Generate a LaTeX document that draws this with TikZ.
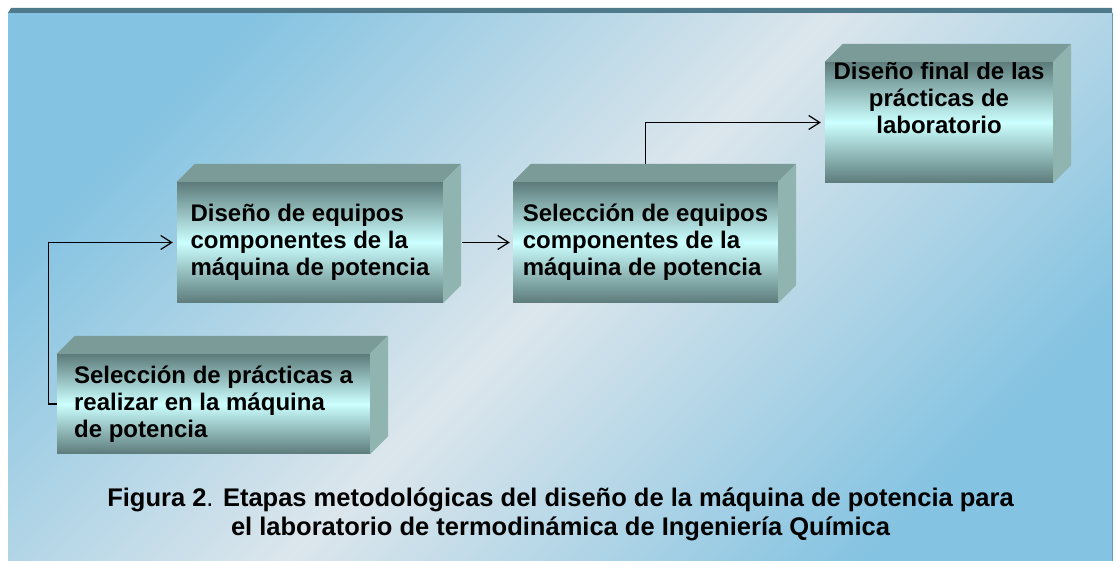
\documentclass[tikz,border=0pt]{standalone}
\usepackage{fontspec}
\setmainfont{Liberation Sans}
\usetikzlibrary{arrows.meta}
\definecolor{fondoazul}{HTML}{84C3E1}
\definecolor{fondoclaro}{HTML}{DCE6EC}
\definecolor{barra}{HTML}{4E7A8B}
\definecolor{cajaoscura}{HTML}{5C7B7A}
\definecolor{cajaclara}{HTML}{CCFFFF}
\definecolor{cajatapa}{HTML}{7A9B98}
\definecolor{cajalado}{HTML}{90B5B1}
\tikzset{bloque/.style={rectangle, inner xsep=0pt, inner ysep=0pt,
    top color=cajaoscura, bottom color=cajaoscura, middle color=cajaclara,
    font=\fontsize{24}{27}\selectfont\bfseries, align=left},
  flecha/.style={black, line width=1.2pt, -{Straight Barb[length=11pt,width=14pt]}}}

\begin{document}
\begin{tikzpicture}[x=1pt,y=1pt]
  \useasboundingbox (0,0) rectangle (1116,561);
  \shade[top color=fondoazul, bottom color=fondoazul, middle color=fondoclaro, shading angle=45] (8,0) rectangle (1112,548);
  \fill[barra] (8,548) -- (11,553) -- (1112,553) -- (1112,548) -- cycle;
  \draw[fondoazul!80!black, line width=1pt] (1112,0) -- (1112,548);

  % bloques (cara frontal)
  \node[bloque, minimum width=313, minimum height=100] (practicas) at (213.5,157)
    {Selecci\'on de pr\'acticas a\\realizar en la m\'aquina\\de potencia};
  \node[bloque, minimum width=266, minimum height=121] (diseno) at (310,318.5)
    {Dise\~no de equipos\\componentes de la\\m\'aquina de potencia};
  \node[bloque, minimum width=265, minimum height=121] (seleccion) at (645.5,318.5)
    {Selecci\'on de equipos\\componentes de la\\m\'aquina de potencia};
  \node[bloque, minimum width=228, minimum height=121, align=center] (final) at (939,438.5)
    {Dise\~no final de las\\pr\'acticas de\\laboratorio\\[22pt]\mbox{}};

  % tapa y lado
  \foreach \n in {practicas,diseno,seleccion,final} {
    \fill[cajatapa] (\n.north west) -- ++(18,18) -- ([shift={(18,18)}]\n.north east) -- (\n.north east) -- cycle;
    \fill[cajalado] (\n.north east) -- ++(18,18) -- ([shift={(18,18)}]\n.south east) -- (\n.south east) -- cycle;
  }

  \draw[flecha, shorten >=4pt] (practicas.west) -- ++(-8,0) |- (diseno.west);
  \draw[flecha, shorten >=3pt] ([xshift=19]diseno.east) -- (seleccion.west);
  \draw[flecha, shorten >=4pt] ([yshift=18]seleccion.north) |- (final.west);

  \node[font=\fontsize{25.5}{29}\selectfont\bfseries, align=center] (titulo) at (560.5,47)
    {Figura 2{\mdseries.} Etapas metodol\'ogicas del dise\~no de la m\'aquina de potencia para\\el laboratorio de termodin\'amica de Ingenier\'ia Qu\'imica};
\end{tikzpicture}
\end{document}
